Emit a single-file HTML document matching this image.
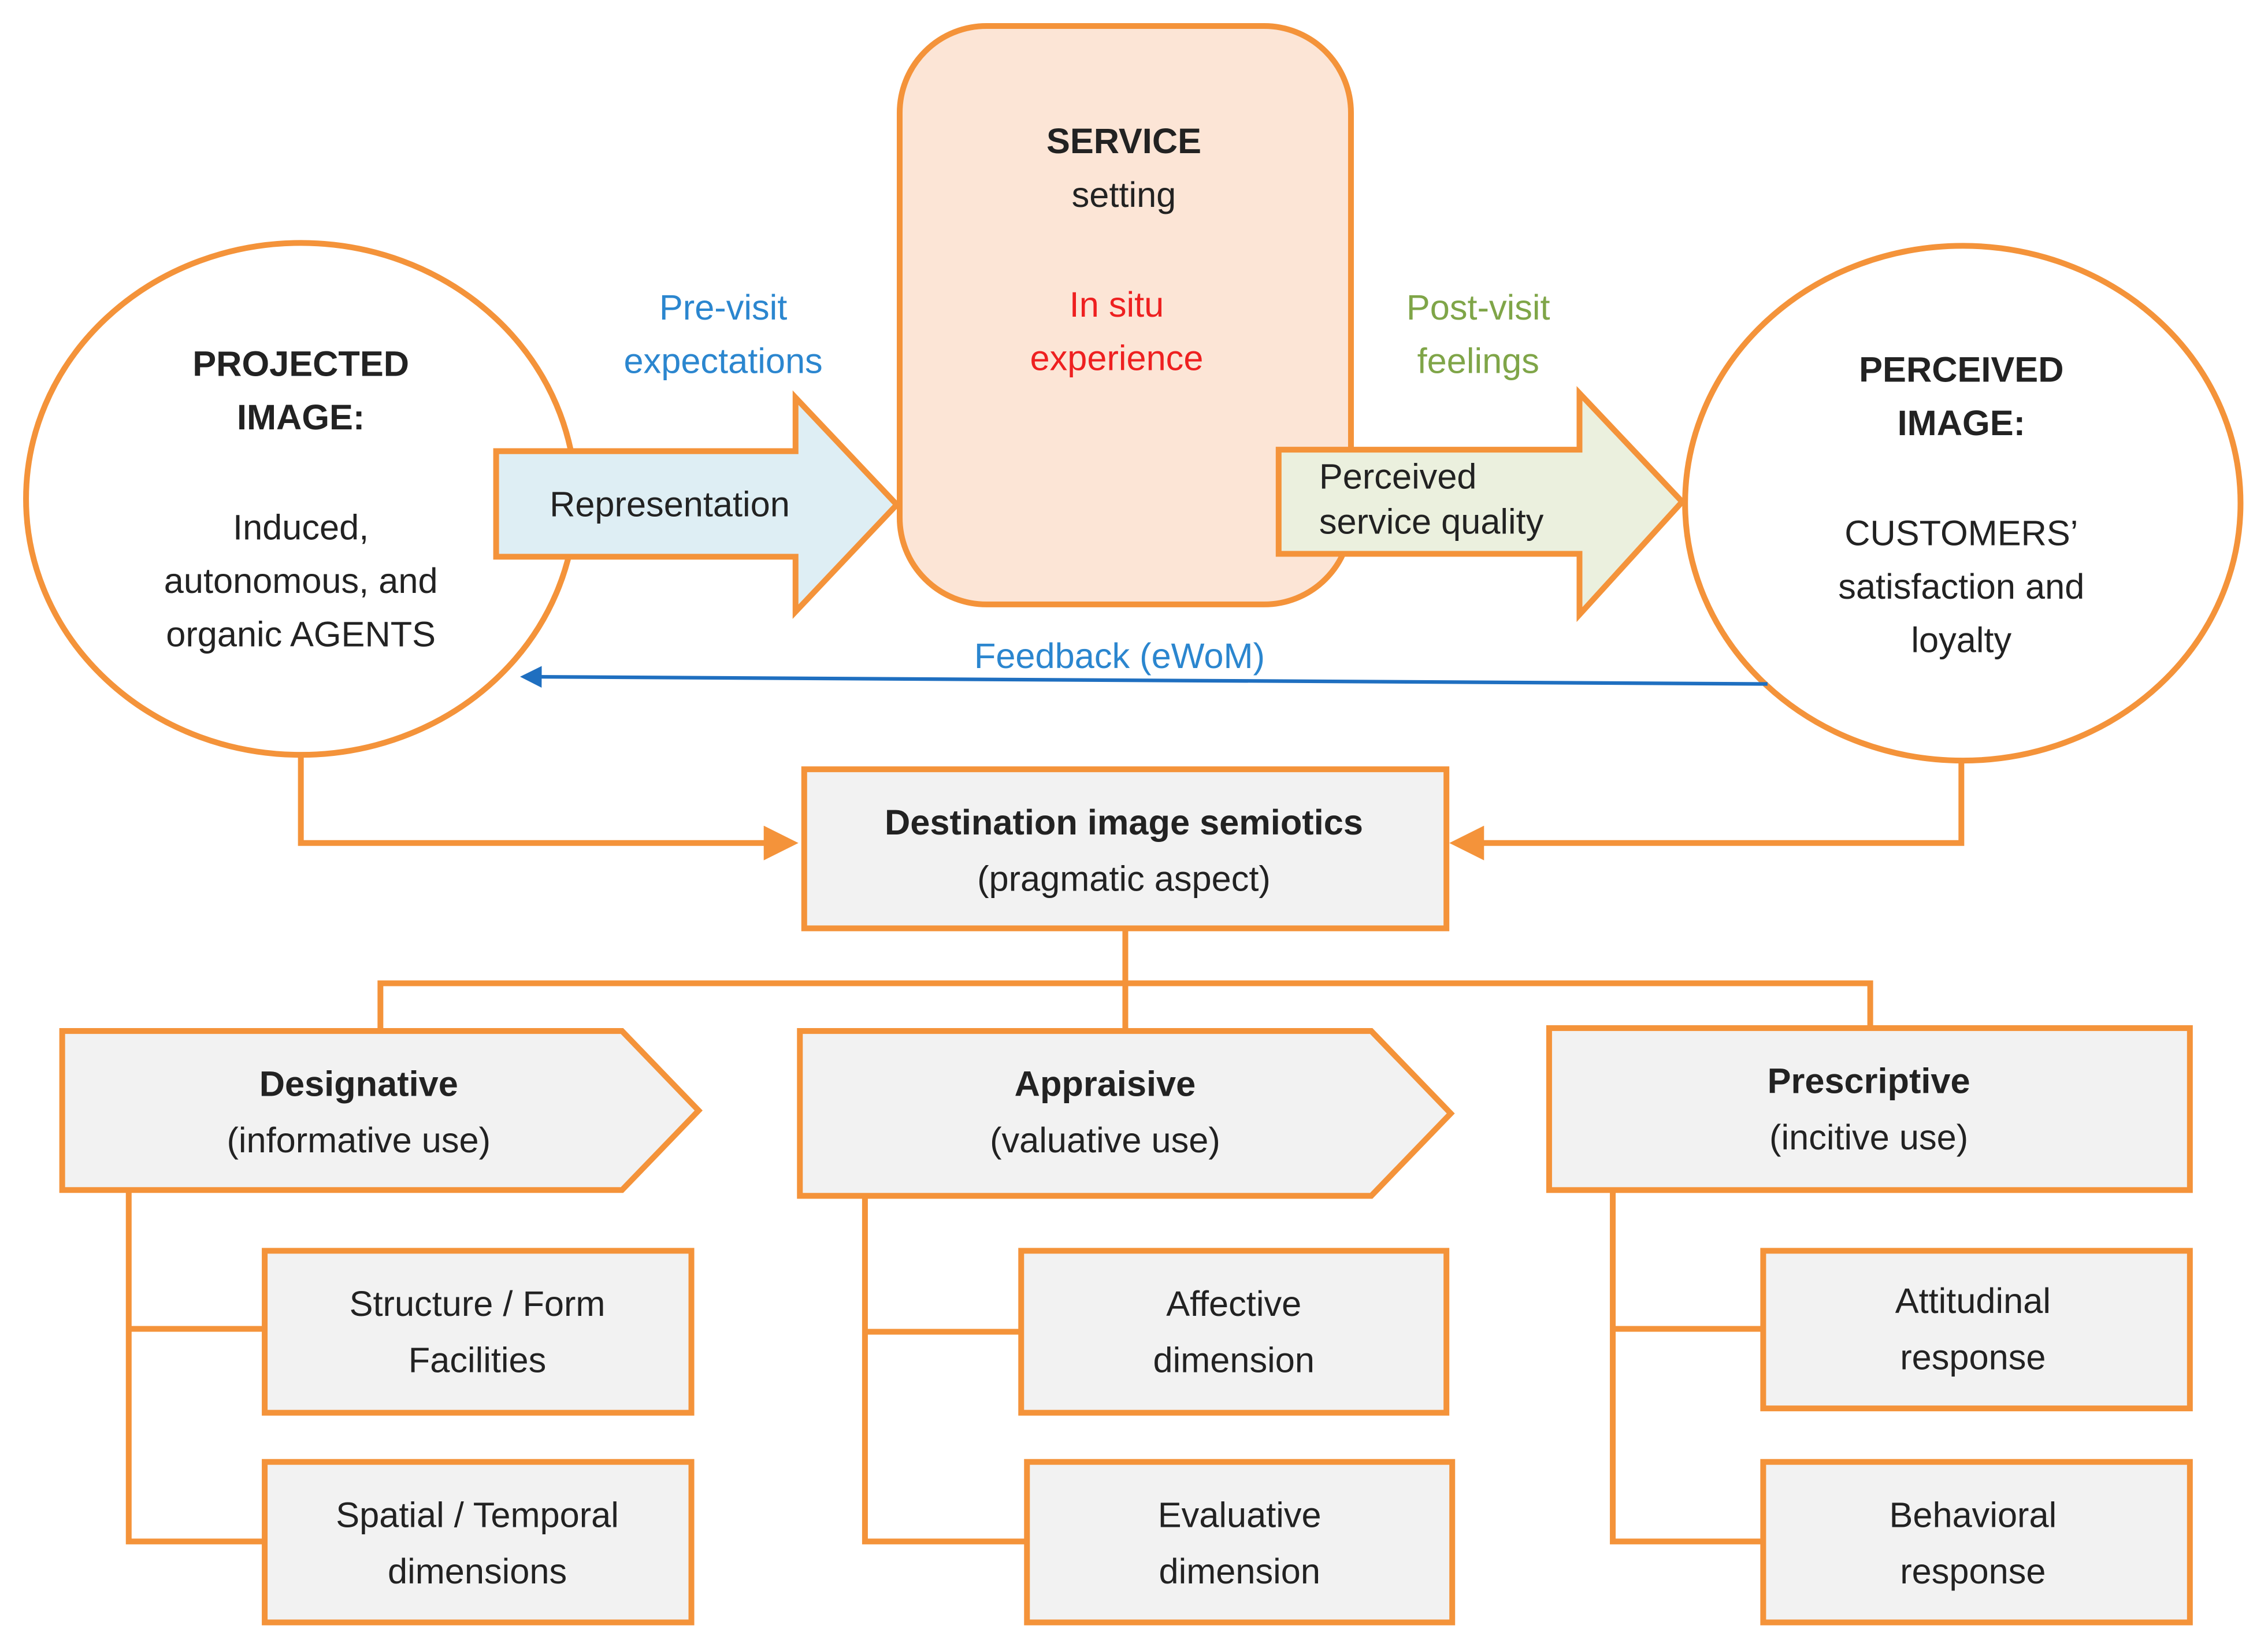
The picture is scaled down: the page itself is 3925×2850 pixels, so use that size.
<!DOCTYPE html>
<html><head><meta charset="utf-8"><style>
html,body{margin:0;padding:0;background:#fff;}
svg{display:block;}
text{font-family:"Liberation Sans",sans-serif;font-size:24.5px;fill:#222;text-anchor:middle;}
.b{font-weight:bold;}
</style></head><body>
<svg width="3925" height="2850" viewBox="0 0 1568 1139" preserveAspectRatio="none" xmlns="http://www.w3.org/2000/svg">
<defs>
<marker id="ob" markerWidth="6" markerHeight="6" refX="5" refY="3" orient="auto" markerUnits="strokeWidth"><path d="M0,0 L6,3 L0,6 z" fill="#f4933a"/></marker>
<marker id="bb" markerWidth="6" markerHeight="6" refX="5" refY="3" orient="auto" markerUnits="strokeWidth"><path d="M0,0 L6,3 L0,6 z" fill="#1f6fc0"/></marker>
</defs>
<g stroke="#f4933a" stroke-width="4" fill="none">
<rect x="622" y="18" width="312" height="400" rx="60" fill="#fce5d6"/>
<ellipse cx="208" cy="345" rx="190" ry="177" fill="#fff"/>
<ellipse cx="1357" cy="348" rx="192" ry="178" fill="#fff"/>
<path d="M343,312 L550,312 L550,275 L620,349 L550,423 L550,385 L343,385 Z" fill="#deeef4"/>
<path d="M884,311 L1092,311 L1092,272 L1163,347 L1092,425 L1092,383 L884,383 Z" fill="#ebf0de"/>
<rect x="556" y="532" width="444" height="110" fill="#f2f2f2"/>
<path d="M208,522 V583 H548" marker-end="url(#ob)"/>
<path d="M1356,527 V583 H1006" marker-end="url(#ob)"/>
<path d="M778,642 V713 M263,713 V680 H1293 V711"/>
<path d="M43,713 H430 L483,768 L430,823 H43 Z" fill="#f2f2f2"/>
<path d="M553,713 H948 L1003,770 L948,827 H553 Z" fill="#f2f2f2"/>
<rect x="1071" y="711" width="443" height="112" fill="#f2f2f2"/>
<rect x="183" y="865" width="295" height="112" fill="#f2f2f2"/>
<rect x="183" y="1011" width="295" height="111" fill="#f2f2f2"/>
<rect x="706" y="865" width="294" height="112" fill="#f2f2f2"/>
<rect x="710" y="1011" width="294" height="111" fill="#f2f2f2"/>
<rect x="1219" y="865" width="295" height="109" fill="#f2f2f2"/>
<rect x="1219" y="1011" width="295" height="111" fill="#f2f2f2"/>
<path d="M89,823 V1066 H183 M89,919 H183"/>
<path d="M598,827 V1066 H710 M598,921 H706"/>
<path d="M1115,823 V1066 H1219 M1115,919 H1219"/>
</g>
<path d="M1222,473 L362,468" stroke="#1f6fc0" stroke-width="2.5" fill="none" marker-end="url(#bb)"/>

<text x="777" y="106" class="b">SERVICE</text>
<text x="777" y="143">setting</text>
<text x="772" y="219" style="fill:#ee2020">In situ</text>
<text x="772" y="256" style="fill:#ee2020">experience</text>
<text x="500" y="221" style="fill:#2b86cf">Pre-visit</text>
<text x="500" y="258" style="fill:#2b86cf">expectations</text>
<text x="1022" y="221" style="fill:#7fa548">Post-visit</text>
<text x="1022" y="258" style="fill:#7fa548">feelings</text>
<text x="208" y="260" class="b">PROJECTED</text>
<text x="208" y="297" class="b">IMAGE:</text>
<text x="208" y="373">Induced,</text>
<text x="208" y="410">autonomous,  and</text>
<text x="208" y="447">organic AGENTS</text>
<text x="1356" y="264" class="b">PERCEIVED</text>
<text x="1356" y="301" class="b">IMAGE:</text>
<text x="1356" y="377">CUSTOMERS’</text>
<text x="1356" y="414">satisfaction and</text>
<text x="1356" y="451">loyalty</text>
<text x="463" y="357">Representation</text>
<text x="912" y="338" style="text-anchor:start">Perceived</text>
<text x="912" y="369" style="text-anchor:start">service quality</text>
<text x="774" y="462" style="fill:#2b86cf">Feedback (eWoM)</text>
<text x="777" y="577" class="b">Destination image semiotics</text>
<text x="777" y="616">(pragmatic aspect)</text>
<text x="248" y="758" class="b">Designative</text>
<text x="248" y="797">(informative use)</text>
<text x="764" y="758" class="b">Appraisive</text>
<text x="764" y="797">(valuative use)</text>
<text x="1292" y="756" class="b">Prescriptive</text>
<text x="1292" y="795">(incitive use)</text>
<text x="330" y="910">Structure  / Form</text>
<text x="330" y="949">Facilities</text>
<text x="330" y="1056">Spatial / Temporal</text>
<text x="330" y="1095">dimensions</text>
<text x="853" y="910">Affective</text>
<text x="853" y="949">dimension</text>
<text x="857" y="1056">Evaluative</text>
<text x="857" y="1095">dimension</text>
<text x="1364" y="908">Attitudinal</text>
<text x="1364" y="947">response</text>
<text x="1364" y="1056">Behavioral</text>
<text x="1364" y="1095">response</text>
</svg>
</body></html>
